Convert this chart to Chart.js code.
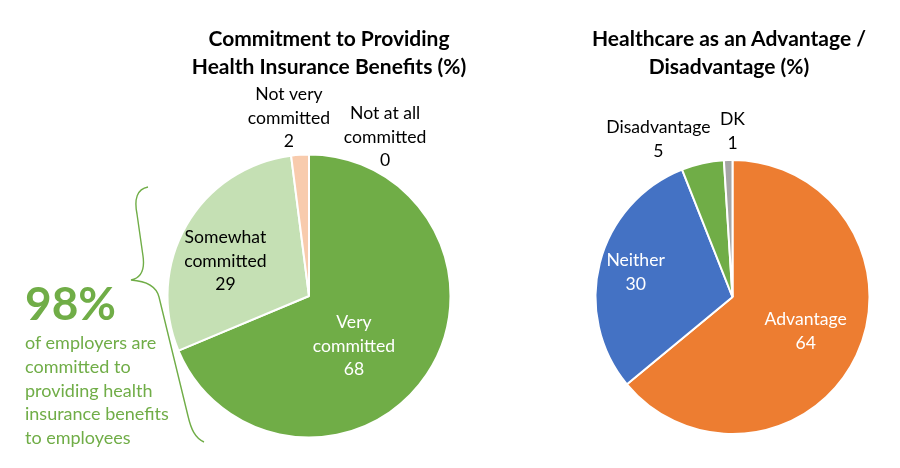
<!DOCTYPE html>
<html>
<head>
<meta charset="utf-8">
<script src="https://cdn.jsdelivr.net/npm/chart.js@4"></script>
<style>
  body { margin: 0; background: #fff; font-family: Lato, "Open Sans", sans-serif; }
  #wrap { position: relative; width: 900px; height: 468px; overflow: hidden; }
  .layer { position: absolute; left: 0; top: 0; width: 900px; height: 468px; }
  .title { position: absolute; font-weight: bold; font-size: 21px; line-height: 28px; text-align: center; color: #000; width: 360px; }
  .big { position: absolute; left: 25px; top: 276px; font-size: 46px; font-weight: bold; color: #70AD47; line-height: 54px; }
  .note { position: absolute; left: 25px; top: 331px; font-size: 18px; line-height: 23.8px; color: #70AD47; }
</style>
</head>
<body>
<div id="wrap">
  <div class="layer"><canvas id="commit"></canvas></div>
  <div class="layer"><canvas id="advantage"></canvas></div>
  <svg class="layer" width="900" height="468">
    <path d="M148,187 C137,189 134,199 137,214 L143,256 C145,270 141,278 131,280 C145,281 156,285 159,297 L188,416 C191,429 195,438 204,442"
          fill="none" stroke="#70AD47" stroke-width="1.4"/>
  </svg>
  <div class="title" style="left:149px; top:24px;">Commitment to Providing<br>Health Insurance Benefits (%)</div>
  <div class="title" style="left:549px; top:24px;">Healthcare as an Advantage /<br>Disadvantage (%)</div>
  <div class="big">98%</div>
  <div class="note">of employers are<br>committed to<br>providing health<br>insurance benefits<br>to employees</div>
</div>
<script>
// Commitment to providing health insurance benefits
const commitLabels = ['Not at all\ncommitted', 'Very\ncommitted', 'Somewhat\ncommitted', 'Not very\ncommitted'];
const commitValues = [0, 68, 29, 2];
const commitColors = ['#70AD47', '#70AD47', '#C5E0B4', '#F8CBAD'];

// Healthcare as an advantage / disadvantage
const advLabels = ['Advantage', 'Neither', 'Disadvantage', 'DK'];
const advValues = [64, 30, 5, 1];
const advColors = ['#ED7D31', '#4472C4', '#70AD47', '#A5A5A5'];

// label placement: radius factor + angle nudge (degrees) from slice middle
const commitPlace = [
    { r: 1.245, da: 25.6, color: '#000' },
    { r: 0.475, da: 14.4, color: '#fff' },
    { r: 0.64, da: -7.4, color: '#000' },
    { r: 1.265, da: -2.8, color: '#000' }
];
const advPlace = [
    { r: 0.59, da: 0, color: '#fff' },
    { r: 0.73, da: 0, color: '#fff' },
    { r: 1.27, da: -12.6, color: '#000' },
    { r: 1.21, da: 1.8, color: '#000' }
];

const sliceLabels = {
    id: 'sliceLabels',
    afterDatasetsDraw(chart, args, opts) {
        const ctx = chart.ctx;
        const meta = chart.getDatasetMeta(0);
        const data = chart.data.datasets[0].data;
        ctx.save();
        ctx.font = '17.6px Lato, "Open Sans", sans-serif';
        ctx.textAlign = 'center';
        ctx.textBaseline = 'middle';
        meta.data.forEach(function (arc, i) {
            const p = opts.place[i];
            const a = (arc.startAngle + arc.endAngle) / 2 + p.da * Math.PI / 180;
            const x = arc.x + Math.cos(a) * arc.outerRadius * p.r;
            const y = arc.y + Math.sin(a) * arc.outerRadius * p.r;
            const lines = chart.data.labels[i].split('\n').concat([String(data[i])]);
            const lh = 23.5;
            ctx.fillStyle = p.color;
            lines.forEach(function (t, k) {
                ctx.fillText(t, x, y + (k - (lines.length - 1) / 2) * lh);
            });
        });
        ctx.restore();
    }
};

function makePie(id, labels, values, colors, place, pad) {
    return new Chart(document.getElementById(id), {
        type: 'pie',
        data: {
            labels: labels,
            datasets: [{
                data: values,
                backgroundColor: colors,
                borderColor: '#fff',
                borderWidth: 2
            }]
        },
        options: {
            responsive: true,
            maintainAspectRatio: false,
            animation: false,
            layout: { padding: pad },
            plugins: {
                legend: { display: false },
                tooltip: { enabled: false },
                sliceLabels: { place: place }
            }
        },
        plugins: [sliceLabels]
    });
}

makePie('commit', commitLabels, commitValues, commitColors, commitPlace,
    { left: 166.5, right: 448.5, top: 153.5, bottom: 29.5 });
makePie('advantage', advLabels, advValues, advColors, advPlace,
    { left: 594.5, right: 29.5, top: 159, bottom: 33 });
</script>
</body>
</html>
